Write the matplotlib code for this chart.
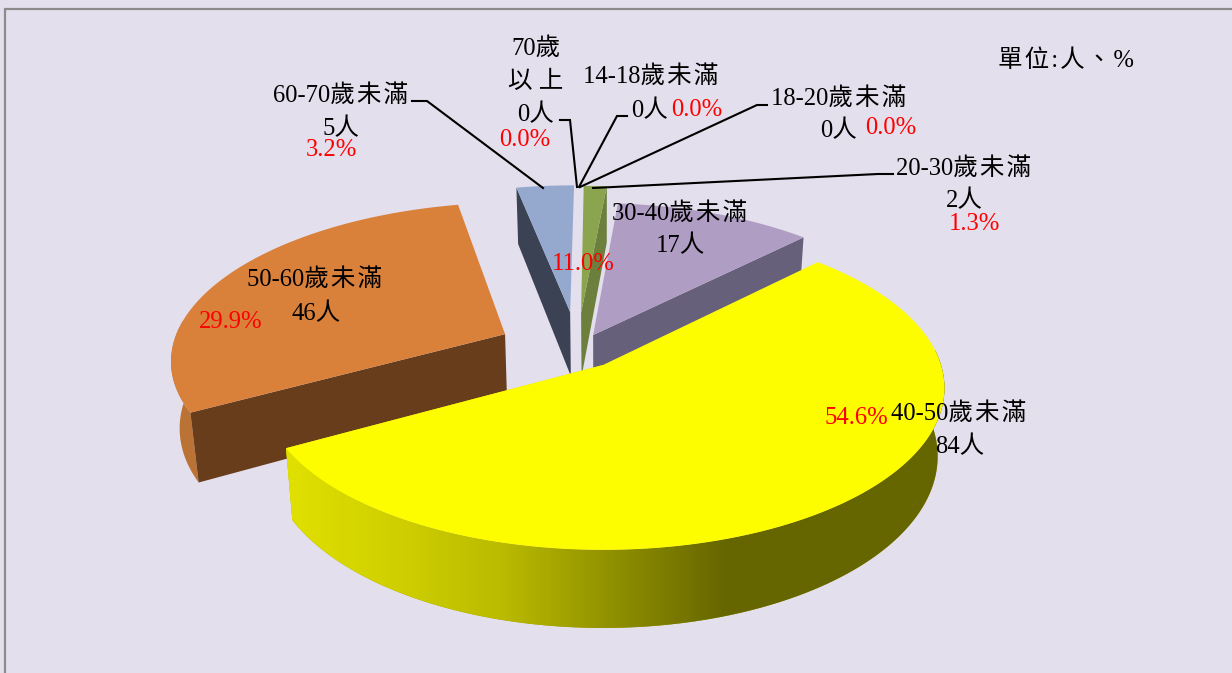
import numpy as np
import matplotlib
matplotlib.use('Agg')
import matplotlib.pyplot as plt
from matplotlib.patches import Polygon
from matplotlib.colors import LinearSegmentedColormap

# data
ages = ['14-18歲未滿', '18-20歲未滿', '20-30歲未滿', '30-40歲未滿',
        '40-50歲未滿', '50-60歲未滿', '60-70歲未滿', '70歲以上']
counts = [0, 0, 2, 17, 84, 46, 5, 0]
percents = [0.0, 0.0, 1.3, 11.0, 54.6, 29.9, 3.2, 0.0]
unit_label = '單\u200a位\u200a:\u200a人\u200a、\u200a%'

# slice look, indexed like ages
top_colors = ['#8AA54E', '#8AA54E', '#8AA54E', '#B09DC4', '#FDFD00', '#D9803B', '#95A9CE', '#95A9CE']
cut_colors = ['#6C7F3D', '#6C7F3D', '#6C7F3D', '#67607A', '#E0E000', '#683D1B', '#3B4253', '#3B4253']
wall_colors = ['#6C7F3D', '#6C7F3D', '#6C7F3D', '#67607A', '#A0A000', '#BB7235', '#3B4253', '#3B4253']
explode = [(-.068, .345), (-.068, .345), (-.068, .345), (-.03, .194),
           (0, 0), (-.298, .2), (-.102, .35), (-.102, .35)]
# which straight face shows: 0 = first edge of the slice, -1 = last edge
cut_side = [-1, -1, -1, -1, -1, 0, 0, 0]
draw_order = [6, 2, 3, 5]  # yellow comes last, it sits over the others

# pie plane seen in perspective
cx, cy, ax_a, ax_b, persp = 603, 365, 338, 158.6, .142
depth, shrink = 67, .02

BG = '#E4DFEC'
plt.rcParams['font.family'] = ['Liberation Serif', 'Noto Sans CJK TC']


def project(u, v, bottom=False):
    s = 1 / (1 + persp * v)
    x = cx + ax_a * u * s
    y = cy - ax_b * v * s
    if bottom:
        x = cx + (x - cx) * (1 - shrink)
        y = y + depth * s
    return np.column_stack([x, y])


def outline(idx, start, stop):
    t = np.deg2rad(np.linspace(start, stop, 240))
    u0, v0 = explode[idx]
    return u0 + np.sin(t), v0 + np.cos(t), np.cos(t) < .1


# angles run clockwise from 12 o'clock
edges = np.concatenate([[0], np.cumsum(counts)]) / sum(counts) * 360

fig = plt.figure(figsize=(12.32, 6.73), dpi=100, facecolor=BG)
ax = fig.add_axes([0, 0, 1, 1])
ax.set_xlim(0, 1232)
ax.set_ylim(673, 0)
ax.axis('off')

# outer frame
ax.plot([5, 5, 1232], [673, 9, 9], color='#8C8C8C', lw=1.6, solid_joinstyle='miter')


def draw_slice(idx):
    a, b = edges[idx], edges[idx + 1]
    u0, v0 = explode[idx]
    u, v, front = outline(idx, a, b)
    top = project(u, v)
    bot = project(u, v, True)
    apex = project(np.array([u0]), np.array([v0]))
    apex_b = project(np.array([u0]), np.array([v0]), True)
    z = 30 if idx == 4 else idx + 2
    # curved outer wall, only the part that faces us
    if front.any():
        wall = Polygon(np.vstack([top[front], bot[front][::-1]]), fc=wall_colors[idx], ec='none', zorder=z)
        ax.add_patch(wall)
    if idx == 4:
        # the yellow wall fades along x
        cmap = LinearSegmentedColormap.from_list('wall', [
            (0, '#E0E000'), (.17, '#CFCF00'), (.33, '#BABA00'), (.5, '#8F8F00'),
            (.667, '#666600'), (1, '#666600')])
        im = ax.imshow(np.linspace(0, 1, 300)[None, :], cmap=cmap, aspect='auto',
                       extent=(285, 945, 673, 0), zorder=z + 1)
        im.set_clip_path(wall)
        ax.set_xlim(0, 1232)
        ax.set_ylim(673, 0)
    # straight cut face
    e = cut_side[idx]
    ax.add_patch(Polygon([apex[0], top[e], bot[e], apex_b[0]],
                         fc=cut_colors[idx], ec='none', zorder=z))
    ax.add_patch(Polygon(np.vstack([apex, top]), fc=top_colors[idx], ec='none',
                         zorder=32 if idx == 4 else idx + 12))


for i in draw_order:
    draw_slice(i)
draw_slice(4)

# leader lines
line_kw = dict(color='black', lw=1.5, zorder=40, solid_joinstyle='miter')
ax.plot([412, 427, 543], [101, 101, 188], **line_kw)
ax.plot([560, 570, 577], [120, 120, 187], **line_kw)
ax.plot([627, 617, 579], [116, 116, 187], **line_kw)
ax.plot([767, 757, 580], [105, 105, 187], **line_kw)
ax.plot([893, 878, 593], [174, 174, 188], **line_kw)


def spaced(s):
    # the CJK signs are set a little apart in the reference
    return s.replace('歲未', '歲\u200a未').replace('未滿', '未\u200a滿')


def label(x, y, s, color='black'):
    ax.text(x, y + 1.5, s, color=color, fontsize=17.7, ha='center', va='center', zorder=50)


def pct(i):
    return f'{percents[i]:.1f}%'


def man(i):
    return f'{counts[i]}人'


label(651, 75, spaced(ages[0]))
label(650, 109, man(0))
label(697, 109, pct(0), 'red')
label(839, 97, spaced(ages[1]))
label(839, 129, man(1))
label(891, 127, pct(1), 'red')
label(964, 167, spaced(ages[2]))
label(964, 199, man(2))
label(974, 222, pct(2), 'red')
label(680, 212, spaced(ages[3]))
label(680, 244, man(3))
label(583, 262, pct(3), 'red')
label(959, 412, spaced(ages[4]))
label(960, 445, man(4))
label(856, 416, pct(4), 'red')
label(315, 278, spaced(ages[5]))
label(316, 312, man(5))
label(231, 320, pct(5), 'red')
label(341, 94, spaced(ages[6]))
label(341, 127, man(6))
label(331, 148, pct(6), 'red')
label(536, 47, ages[7][:3])
label(536, 80, ages[7][3] + ' ' + ages[7][4])
label(536, 113, man(7))
label(525, 139, pct(7), 'red')
label(1066, 59, unit_label)

fig.savefig('out.png', dpi=100, facecolor=BG)
